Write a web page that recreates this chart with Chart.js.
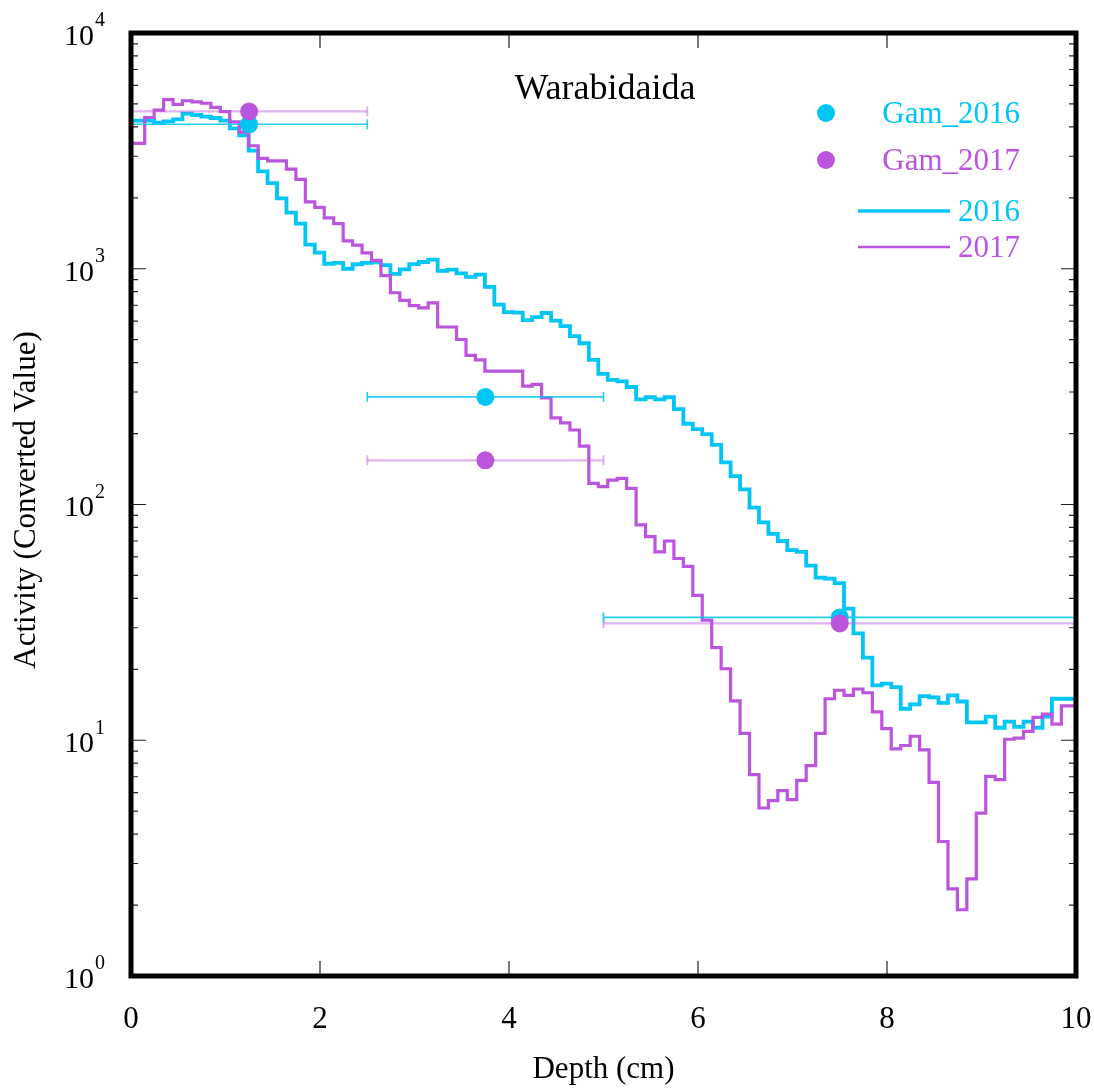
<!DOCTYPE html>
<html><head><meta charset="utf-8">
<script src="https://cdn.jsdelivr.net/npm/chart.js@4.4.0/dist/chart.umd.min.js"></script>
<style>html,body{margin:0;padding:0;background:#fff}canvas{display:block}</style>
</head><body>
<canvas id="c" width="1094" height="1088"></canvas>
<script>
const C = { c16:"#00c5f5", c17:"#bb55dd", c16err:"rgba(0,197,245,0.85)", c17err:"rgba(187,85,221,0.45)", ink:"#000" };
const FONT = '"Liberation Serif", "Times New Roman", serif';

// step histogram, 0.1 cm bins (steps sit a little right of the bin edge)
const binWidth = 0.1;
const binOffset = 0.045;
const act2016 = [
  4550, 4250, 4250, 4170, 4220, 4300, 4550, 4490, 4420, 4360,
  4250, 3940, 3680, 3170, 2590, 2310, 1990, 1730, 1555, 1265,
  1170, 1050, 1060, 1000, 1045, 1060, 1065, 1037, 951, 994,
  1047, 1068, 1093, 979, 991, 956, 923, 944, 837, 704,
  655, 651, 606, 624, 649, 602, 571, 518, 483, 411,
  358, 338, 333, 315, 279, 285, 279, 285, 254, 220,
  209, 199, 179, 151, 132, 116, 97, 84, 75, 70,
  64, 63, 55, 49, 48.5, 46.4, 36.2, 28.4, 22.4, 17.1,
  17.4, 16.8, 13.6, 14.2, 15.4, 15.2, 14.4, 15.5, 14.6, 11.9,
  11.9, 12.6, 11.3, 12.0, 11.4, 12.0, 11.3, 12.6, 15.0, 15.0
];
const act2017 = [
  2800, 3400, 4380, 4710, 5220, 4980, 5160, 5100, 5035, 4840,
  4640, 4200, 3800, 3325, 2940, 2870, 2870, 2645, 2395, 1923,
  1820, 1645, 1555, 1312, 1260, 1168, 1086, 935, 791, 734,
  697, 683, 717, 566, 566, 501, 429, 411, 368, 368,
  368, 368, 318, 323, 283, 233, 222, 207, 177, 123,
  119, 127, 129, 117, 82, 73, 63, 70, 59, 54.6,
  41.2, 32.3, 24.7, 20.1, 14.7, 10.7, 7.15, 5.16, 5.54, 6.11,
  5.6, 6.76, 7.8, 10.7, 15.0, 16.3, 15.5, 16.5, 15.9, 13.2,
  11.2, 9.2, 9.5, 10.4, 9.1, 6.63, 3.72, 2.34, 1.91, 2.58,
  4.91, 7.03, 6.81, 10.1, 10.2, 10.9, 12.5, 12.9, 11.7, 14.0
];

// gamma points with depth range
const gamDepth = [1.25, 3.75, 7.5];
const gamLo = [0, 2.5, 5];
const gamHi = [2.5, 5, 10];
const gam2016 = [4100, 286, 33.2];
const gam2017 = [4650, 154, 31.3];

const xMin = 0, xMax = 10;
const xTicks = [0, 2, 4, 6, 8, 10];
const yDecades = [1, 10, 100, 1000, 10000];
const yExp = ["0", "1", "2", "3", "4"];
const yMinorSteps = [2, 3, 4, 5, 6, 7, 8, 9];

function steps(vals){
  const pts = vals.map((v,i)=>({x: i ? +(i*binWidth+binOffset).toFixed(3) : xMin, y:v}));
  pts.push({x:xMax, y:vals[vals.length-1]});
  return pts;
}
function dots(ys){ return gamDepth.map((x,i)=>({x, y:ys[i]})); }
function errBars(ys){
  const out = [];
  ys.forEach((v,i)=>{ if(i) out.push({x:gamLo[i], y:null}); out.push({x:gamLo[i], y:v}, {x:gamHi[i], y:v}); });
  return out;
}

const decor = {
  id:"decor",
  afterDraw(chart){
    const {ctx, chartArea:a, scales:{x, y}} = chart;
    ctx.save();
    // ticks (inside, mirrored)
    ctx.strokeStyle = "#222"; ctx.lineWidth = 1.2;
    ctx.beginPath();
    xTicks.forEach(v=>{ const px = x.getPixelForValue(v);
      ctx.moveTo(px, a.bottom); ctx.lineTo(px, a.bottom-15);
      ctx.moveTo(px, a.top); ctx.lineTo(px, a.top+15); });
    yDecades.forEach((d,i)=>{
      const py = y.getPixelForValue(d);
      ctx.moveTo(a.left, py); ctx.lineTo(a.left+15, py);
      ctx.moveTo(a.right, py); ctx.lineTo(a.right-15, py);
      if (i < yDecades.length-1) yMinorSteps.forEach(k=>{
        const pm = y.getPixelForValue(k*d);
        ctx.moveTo(a.left, pm); ctx.lineTo(a.left+7, pm);
        ctx.moveTo(a.right, pm); ctx.lineTo(a.right-7, pm);
      });
    });
    ctx.stroke();
    // frame
    ctx.strokeStyle = C.ink; ctx.lineWidth = 5;
    ctx.strokeRect(a.left, a.top, a.right-a.left, a.bottom-a.top);
    // tick labels
    ctx.fillStyle = C.ink; ctx.textBaseline = "middle";
    ctx.font = `31px ${FONT}`; ctx.textAlign = "center";
    xTicks.forEach(v=> ctx.fillText(String(v), x.getPixelForValue(v), 1020));
    yDecades.forEach((d,i)=>{
      const py = y.getPixelForValue(d);
      ctx.font = `30px ${FONT}`; ctx.textAlign = "right";
      ctx.fillText("10", 94, py+4);
      ctx.font = `20px ${FONT}`; ctx.textAlign = "left";
      ctx.fillText(yExp[i], 95, py-12);
    });
    // axis titles
    ctx.font = `31px ${FONT}`; ctx.textAlign = "center";
    ctx.fillText("Depth (cm)", (a.left+a.right)/2, 1070);
    ctx.save(); ctx.translate(27, 500); ctx.rotate(-Math.PI/2);
    ctx.fillText("Activity (Converted Value)", 0, 0); ctx.restore();
    // title
    ctx.font = `36px ${FONT}`;
    ctx.fillText("Warabidaida", 605, 90);
    // legend
    ctx.font = `31px ${FONT}`; ctx.textAlign = "right";
    [[C.c16, "Gam_2016", 113], [C.c17, "Gam_2017", 160]].forEach(([c,t,ly])=>{
      ctx.fillStyle = c; ctx.beginPath(); ctx.arc(826, ly, 9, 0, Math.PI*2); ctx.fill();
      ctx.fillText(t, 1020, ly+2);
    });
    [[C.c16, "2016", 211, 3.5], [C.c17, "2017", 247, 2.5]].forEach(([c,t,ly,w])=>{
      ctx.strokeStyle = c; ctx.lineWidth = w; ctx.beginPath(); ctx.moveTo(858, ly); ctx.lineTo(950, ly); ctx.stroke();
      ctx.fillStyle = c; ctx.fillText(t, 1020, ly+2);
    });
    ctx.restore();
  }
};

new Chart(document.getElementById("c"), {
  type:"line",
  data:{ datasets:[
    {label:"Gam_2017", type:"scatter", data:dots(gam2017), backgroundColor:C.c17, pointRadius:9, pointBorderWidth:0, pointHoverRadius:9},
    {label:"Gam_2016", type:"scatter", data:dots(gam2016), backgroundColor:C.c16, pointRadius:9, pointBorderWidth:0, pointHoverRadius:9},
    {label:"err2016", data:errBars(gam2016), borderColor:C.c16err, borderWidth:1.6, spanGaps:false,
      pointStyle:"line", rotation:90, pointRadius:5, pointBorderColor:C.c16err, pointBorderWidth:1.6},
    {label:"err2017", data:errBars(gam2017), borderColor:C.c17err, borderWidth:2.2, spanGaps:false,
      pointStyle:"line", rotation:90, pointRadius:5, pointBorderColor:C.c17err, pointBorderWidth:2},
    {label:"2017", data:steps(act2017), borderColor:C.c17, borderWidth:3.2, stepped:"after", pointRadius:0, fill:false},
    {label:"2016", data:steps(act2016), borderColor:C.c16, borderWidth:3.8, stepped:"after", pointRadius:0, fill:false}
  ]},
  options:{
    responsive:false, animation:false,
    layout:{padding:{left:131, right:18, top:33, bottom:112}},
    plugins:{legend:{display:false}, tooltip:{enabled:false}},
    scales:{
      x:{type:"linear", min:xMin, max:xMax, display:false},
      y:{type:"logarithmic", min:yDecades[0], max:yDecades[yDecades.length-1], display:false}
    }
  },
  plugins:[decor]
});
</script>
</body></html>
